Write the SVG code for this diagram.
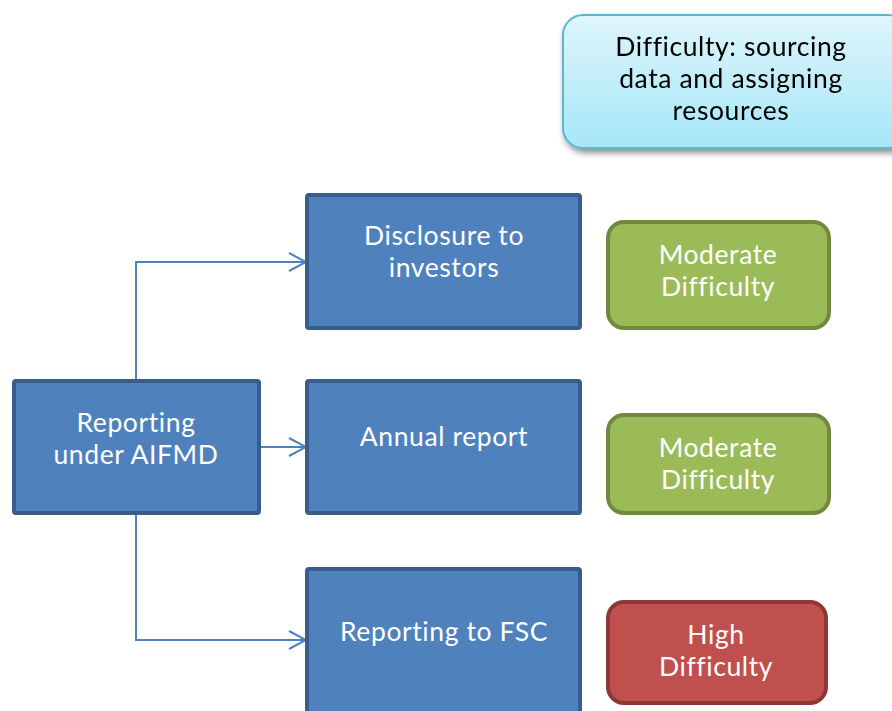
<svg xmlns="http://www.w3.org/2000/svg" width="892" height="711" viewBox="0 0 892 711">
  <defs>
    <linearGradient id="cyanFill" x1="0" y1="0" x2="0" y2="1">
      <stop offset="0" stop-color="#def5fb"/>
      <stop offset="1" stop-color="#a6e6f7"/>
    </linearGradient>
    <filter id="shadow" x="-10%" y="-10%" width="130%" height="140%">
      <feGaussianBlur in="SourceAlpha" stdDeviation="3"/>
      <feOffset dx="2" dy="4" result="b"/>
      <feComponentTransfer><feFuncA type="linear" slope="0.45"/></feComponentTransfer>
      <feMerge><feMergeNode/><feMergeNode in="SourceGraphic"/></feMerge>
    </filter>
    <marker id="open" markerWidth="20" markerHeight="20" viewBox="0 0 20 20" refX="18" refY="10" orient="auto" markerUnits="userSpaceOnUse">
      <path d="M1 1 L18 10 L1 19" fill="none" stroke="#4f81bd" stroke-width="2"/>
    </marker>
  </defs>
  <style>
    .blue { fill: #4f81bd; stroke: #385d8a; stroke-width: 4; }
    .green { fill: #9bbb59; stroke: #71893f; stroke-width: 4; }
    .red { fill: #c0504d; stroke: #8c3836; stroke-width: 4; }
    .note { fill: url(#cyanFill); stroke: #5bb7cf; stroke-width: 2; }
    text { font-family: Lato, "Open Sans", sans-serif; font-size: 26.5px; letter-spacing: 0.6px; text-anchor: middle; }
    .w { fill: #ffffff; }
    .k { fill: #000000; }
    .conn { fill: none; stroke: #4f81bd; stroke-width: 2; marker-end: url(#open); }
  </style>
  <rect width="892" height="711" fill="#ffffff"/>

  <g id="connectors">
    <path class="conn" d="M136 380 V262 H306"/>
    <path class="conn" d="M259 447 H306"/>
    <path class="conn" d="M136 513 V640 H306"/>
  </g>

  <g id="difficulty-legend" filter="url(#shadow)">
    <rect class="note" x="563" y="15" width="345" height="133" rx="20"/>
    <text class="k" x="731" y="56">Difficulty: sourcing</text>
    <text class="k" x="731" y="88">data and assigning</text>
    <text class="k" x="731" y="120">resources</text>
  </g>

  <g id="reporting-aifmd">
    <rect class="blue" x="14" y="381" width="245" height="132" rx="2"/>
    <text class="w" x="136" y="432">Reporting</text>
    <text class="w" x="136" y="464">under AIFMD</text>
  </g>

  <g id="disclosure">
    <rect class="blue" x="307" y="195" width="273" height="133" rx="2"/>
    <text class="w" x="444" y="245">Disclosure to</text>
    <text class="w" x="444" y="277">investors</text>
  </g>

  <g id="annual-report">
    <rect class="blue" x="307" y="381" width="273" height="132" rx="2"/>
    <text class="w" x="444" y="446">Annual report</text>
  </g>

  <g id="reporting-fsc">
    <rect class="blue" x="307" y="569" width="273" height="160" rx="2"/>
    <text class="w" x="444" y="641">Reporting to FSC</text>
  </g>

  <g id="moderate-1">
    <rect class="green" x="608" y="222" width="221" height="106" rx="16"/>
    <text class="w" x="718" y="264">Moderate</text>
    <text class="w" x="718" y="296">Difficulty</text>
  </g>

  <g id="moderate-2">
    <rect class="green" x="608" y="415" width="221" height="98" rx="16"/>
    <text class="w" x="718" y="457">Moderate</text>
    <text class="w" x="718" y="489">Difficulty</text>
  </g>

  <g id="high">
    <rect class="red" x="608" y="602" width="218" height="101" rx="16"/>
    <text class="w" x="716" y="644">High</text>
    <text class="w" x="716" y="676">Difficulty</text>
  </g>
</svg>
